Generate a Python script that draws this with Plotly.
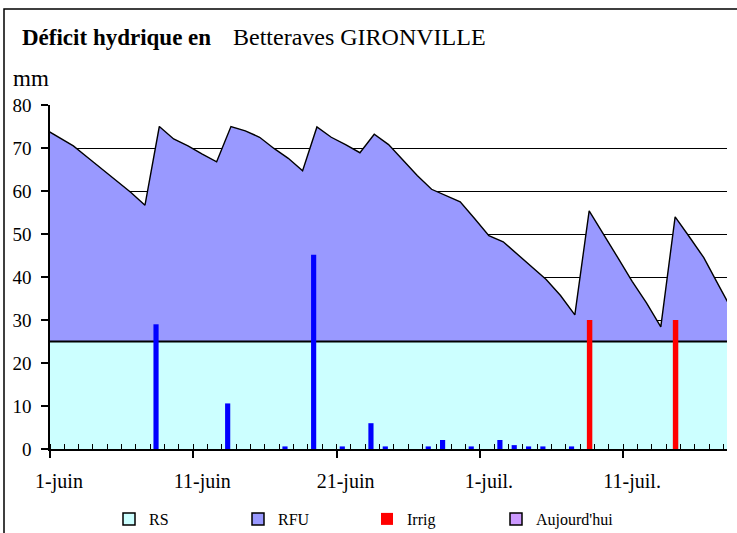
import plotly.graph_objects as go

# ---------------- data ----------------
# day index: 0 = 1-juin ... 47 = 18-juil. (-1 = 31-mai)
rfu_days = list(range(-1, 48))
rfu = [74.4, 72.4, 70.5, 67.8, 65.1, 62.4, 59.7, 56.7, 75.0, 72.1,
       70.5, 68.6, 66.8, 75.0, 74.0, 72.5, 69.9, 67.6, 64.7, 74.9,
       72.5, 70.8, 68.9, 73.2, 70.8, 67.2, 63.6, 60.4, 59.0, 57.5,
       53.6, 49.6, 48.2, 45.3, 42.3, 39.4, 35.7, 31.2, 55.4, 49.8,
       44.5, 39.0, 34.0, 28.4, 54.0, 49.3, 44.5, 38.3, 32.1]
rs = [25.0] * len(rfu_days)

rain_days = [7, 12, 16, 18, 20, 22, 23, 26, 27, 29, 31, 32, 33, 34, 36]
rain = [29.0, 10.6, 0.6, 45.2, 0.6, 6.0, 0.6, 0.6, 2.1, 0.6, 2.1, 0.9, 0.6, 0.6, 0.6]

irrig_days = [37, 43]
irrig = [30.0, 30.0]

tick_days = [0, 10, 20, 30, 40]
tick_labels = ["1-juin", "11-juin", "21-juin", "1-juil.", "11-juil."]
y_ticks = [0, 10, 20, 30, 40, 50, 60, 70, 80]

# ---------------- layout helpers ----------------
W, H = 737, 533
L, R, T, B = 50, 10, 105, 84
PW, PH = W - L - R, H - T - B
AREA_SHIFT = 0.63
FONT = "Liberation Serif, Times New Roman, serif"


def px_x(p):
    return (p - L) / PW


def px_y(p):
    return (H - B - p) / PH


fig = go.Figure()

# areas (main axes)
fig.add_trace(go.Scatter(
    x=[d + AREA_SHIFT for d in rfu_days], y=rfu, mode="lines",
    line=dict(color="black", width=1.4), fill="tozeroy", fillcolor="#9999FF",
    showlegend=False, name="RFU", xaxis="x", yaxis="y"))
fig.add_trace(go.Scatter(
    x=[d + AREA_SHIFT for d in rfu_days], y=rs, mode="lines",
    line=dict(color="black", width=2), fill="tozeroy", fillcolor="#CCFFFF",
    showlegend=False, name="RS", xaxis="x", yaxis="y"))

# bars (overlaid axes so they are drawn above the areas)
fig.add_trace(go.Bar(
    x=rain_days, y=rain, offset=0.22, width=0.36, marker=dict(color="#0000FF", line=dict(width=0)),
    showlegend=False, name="Pluie", xaxis="x2", yaxis="y2"))
fig.add_trace(go.Bar(
    x=irrig_days, y=irrig, offset=0.47, width=0.38, marker=dict(color="#FF0000", line=dict(width=0)),
    name="Irrig", legendrank=3, xaxis="x2", yaxis="y2"))

# legend-only entries
fig.add_trace(go.Bar(x=[None], y=[None], name="RS", legendrank=1,
                     marker=dict(color="#CCFFFF", line=dict(color="black", width=1.5)),
                     xaxis="x2", yaxis="y2"))
fig.add_trace(go.Bar(x=[None], y=[None], name="RFU", legendrank=2,
                     marker=dict(color="#9999FF", line=dict(color="black", width=1.5)),
                     xaxis="x2", yaxis="y2"))
fig.add_trace(go.Bar(x=[None], y=[None], name="Aujourd'hui", legendrank=4,
                     marker=dict(color="#CC99FF", line=dict(color="black", width=1.5)),
                     xaxis="x2", yaxis="y2"))

XR = [0, 47.25]
fig.update_layout(
    width=W, height=H,
    margin=dict(l=L, r=R, t=T, b=B, autoexpand=False),
    paper_bgcolor="white", plot_bgcolor="white",
    font=dict(family=FONT, color="black", size=19),
    barmode="overlay",
    xaxis=dict(range=XR, showline=True, linecolor="black", linewidth=2,
               tickmode="array", tickvals=tick_days, ticktext=tick_labels,
               ticks="outside", ticklen=7, tickwidth=1.5, tickcolor="black",
               ticklabelshift=9, ticklabelstandoff=6,
               showgrid=False, zeroline=False,
               minor=dict(tickmode="linear", tick0=0, dtick=1, ticks="inside",
                          ticklen=5, tickwidth=1.2, tickcolor="black", showgrid=False),
               tickfont=dict(size=20, family=FONT)),
    yaxis=dict(range=[0, 80], tickvals=y_ticks, showline=True, linecolor="black", linewidth=1.5,
               ticks="outside", ticklen=7, tickwidth=1.5, tickcolor="black",
               ticklabelstandoff=6,
               showgrid=True, gridcolor="black", gridwidth=1.2, zeroline=False,
               tickfont=dict(size=19, family=FONT)),
    xaxis2=dict(range=XR, overlaying="x", visible=False),
    yaxis2=dict(range=[0, 80], overlaying="y", visible=False),
    legend=dict(orientation="h", x=px_x(109), y=px_y(502), xanchor="left", yanchor="top",
                entrywidth=84, entrywidthmode="pixels", itemwidth=30,
                font=dict(size=16, family=FONT), bgcolor="rgba(0,0,0,0)", traceorder="normal"),
    shapes=[dict(type="rect", xref="paper", yref="paper",
                 x0=px_x(4), x1=px_x(745), y0=px_y(9), y1=px_y(545),
                 line=dict(color="black", width=1.5), fillcolor="rgba(0,0,0,0)", layer="above")],
    annotations=[
        dict(text="<b>Déficit hydrique en</b>", xref="paper", yref="paper",
             x=px_x(20), y=px_y(37), xanchor="left", yanchor="middle", showarrow=False,
             font=dict(size=23, family=FONT)),
        dict(text="Betteraves GIRONVILLE", xref="paper", yref="paper",
             x=px_x(231), y=px_y(37), xanchor="left", yanchor="middle", showarrow=False,
             font=dict(size=24, family=FONT)),
        dict(text="mm", xref="paper", yref="paper",
             x=px_x(11), y=px_y(78), xanchor="left", yanchor="middle", showarrow=False,
             font=dict(size=23, family=FONT)),
    ],
)

fig.write_html("out.html", config={"displayModeBar": False},
               post_script="document.body.style.margin='0';document.body.style.overflow='hidden';")
